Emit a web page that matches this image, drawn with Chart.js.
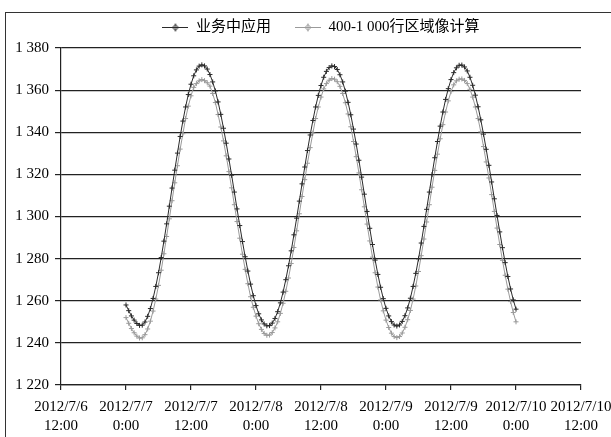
<!DOCTYPE html>
<html>
<head>
<meta charset="utf-8">
<script src="https://cdn.jsdelivr.net/npm/chart.js@4/dist/chart.umd.min.js"></script>
<style>
  html, body { margin: 0; padding: 0; background: #fff; }
  #wrap { position: relative; width: 611px; height: 437px; overflow: hidden; }
  #frame { position: absolute; left: 5px; top: 12px; width: 700px; height: 500px;
           border-left: 1px solid #333; border-top: 1px solid #333; }
  #c { position: absolute; left: 0; top: 0; }
</style>
</head>
<body>
<div id="wrap"><div id="frame"></div><canvas id="c" width="611" height="437"></canvas></div>
<script>
// Series names shown in the legend
const seriesNames = ['业务中应用', '400-1 000行区域像计算'];

// X tick labels, one every 12 hours starting 2012/7/6 12:00
const xTickLabels = [
  ['2012/7/6', '12:00'], ['2012/7/7', '0:00'], ['2012/7/7', '12:00'],
  ['2012/7/8', '0:00'], ['2012/7/8', '12:00'], ['2012/7/9', '0:00'],
  ['2012/7/9', '12:00'], ['2012/7/10', '0:00'], ['2012/7/10', '12:00']
];

// Samples start at 2012/7/7 0:00 (12 h after the first tick), every half hour
const firstSampleHour = 12;
const sampleStepHours = 0.5;

// 业务中应用
const appValues = [
  1258.0,1255.3,1252.8,1250.8,1249.2,1248.3,
  1248.4,1249.9,1252.6,1256.3,1261.1,1266.8,1273.3,1280.5,1288.3,1296.5,1304.9,1313.5,1322.0,1330.1,1338.0,1345.3,1352.0,1357.9,1362.8,1366.8,1369.6,1371.4,1372.0,
  1371.5,1370.0,1367.4,1363.9,1359.6,1354.4,1348.5,1341.9,1334.8,1327.3,1319.6,1311.6,1303.6,1295.7,1288.1,1280.9,1274.1,1267.9,1262.4,1257.7,1253.8,1250.9,1249.0,1248.1,
  1248.2,1249.4,1251.6,1254.8,1259.0,1264.1,1270.0,1276.6,1283.7,1291.3,1299.2,1307.3,1315.5,1323.5,1331.3,1338.7,1345.6,1352.0,1357.5,1362.2,1366.1,1368.9,1370.7,1371.5,
  1371.2,1369.8,1367.3,1363.9,1359.5,1354.2,1348.3,1341.5,1334.4,1326.7,1318.7,1310.6,1302.4,1294.4,1286.7,1279.3,1272.5,1266.4,1261.0,1256.4,1252.8,1250.1,1248.5,1248.0,
  1248.5,1250.2,1252.9,1256.6,1261.2,1266.8,1273.0,1279.9,1287.4,1295.3,1303.4,1311.6,1319.9,1327.9,1335.6,1342.9,1349.6,1355.6,1360.7,1365.0,1368.3,1370.6,1371.8,
  1371.9,1371.0,1369.1,1366.1,1362.3,1357.6,1352.1,1345.9,1339.1,1331.9,1324.3,1316.4,1308.4,1300.5,1292.7,1285.2,1278.1,1271.5,1265.6,1260.4,1256.0
];

// 400-1 000行区域像计算
const regionValues = [
  1252.0,1249.3,1246.8,1244.8,1243.2,1242.3,
  1242.4,1243.9,1246.6,1250.3,1255.1,1260.8,1267.3,1274.5,1282.3,1290.5,1298.9,1307.5,1316.0,1324.1,1332.0,1339.3,1346.5,1352.4,1357.3,1361.3,1363.1,1364.4,1365.0,
  1364.5,1363.5,1361.9,1358.4,1354.1,1348.4,1342.5,1335.9,1328.8,1321.3,1313.6,1305.6,1297.6,1289.7,1282.1,1274.9,1268.1,1261.9,1256.9,1252.7,1249.1,1246.4,1244.5,1243.6,
  1243.7,1244.9,1247.1,1250.0,1254.0,1258.8,1264.5,1270.8,1277.7,1285.3,1293.2,1301.3,1309.5,1317.5,1325.3,1332.7,1339.6,1346.5,1352.0,1356.7,1360.6,1363.1,1364.7,1365.5,
  1365.2,1364.0,1361.8,1358.4,1354.0,1348.7,1342.6,1335.6,1328.4,1320.7,1312.7,1304.6,1296.4,1288.4,1280.7,1273.3,1266.5,1260.4,1255.2,1250.8,1247.3,1244.6,1243.0,1242.5,
  1243.0,1244.7,1247.4,1251.0,1255.4,1260.8,1267.0,1273.9,1281.4,1289.3,1297.4,1305.6,1313.9,1321.9,1329.6,1336.9,1343.6,1349.6,1354.9,1359.3,1362.5,1364.4,1365.2,
  1365.3,1364.6,1363.1,1360.4,1356.7,1352.0,1346.5,1340.2,1333.2,1325.9,1318.3,1310.4,1302.4,1294.5,1286.7,1279.2,1272.1,1265.5,1259.6,1254.4,1250.0
];

const yMin = 1220, yMax = 1380, yStep = 20;
const xMin = 0, xMax = 96, xStep = 12;

const seriesColors = ['#2a2a2a', '#9a9a9a'];
const FONT = '"Liberation Serif", "Noto Sans CJK SC", serif';

function toPoints(values) {
  return values.map((v, i) => ({ x: firstSampleHour + i * sampleStepHours, y: v }));
}

// Small "line with marker" icon for the legend
function legendIcon(color) {
  const c = document.createElement('canvas');
  c.width = 26; c.height = 9;
  const g = c.getContext('2d');
  g.strokeStyle = color; g.lineWidth = 1;
  g.beginPath(); g.moveTo(0, 4.5); g.lineTo(26, 4.5); g.stroke();
  g.beginPath();
  g.moveTo(10, 4.5); g.lineTo(13, 1.5); g.lineTo(16, 4.5); g.lineTo(13, 7.5); g.closePath();
  g.stroke();
  g.beginPath(); g.moveTo(13, 0.5); g.lineTo(13, 8.5); g.stroke();
  return c;
}
const icons = seriesColors.map(legendIcon);

function groupThousands(v) {
  return String(v).replace(/\B(?=(\d{3})+(?!\d))/g, ' ');
}

// Extra room between the legend and the plot area
const legendGap = {
  id: 'legendGap',
  beforeInit(chart) {
    const origFit = chart.legend.fit;
    chart.legend.fit = function () {
      origFit.call(this);
      this.height += 3;
    };
  }
};

new Chart(document.getElementById('c'), {
  type: 'line',
  data: {
    datasets: [
      {
        label: seriesNames[0],
        data: toPoints(appValues),
        borderColor: seriesColors[0],
        backgroundColor: seriesColors[0],
        borderWidth: 1,
        pointStyle: 'cross',
        pointRadius: 2.5,
        pointBorderWidth: 1,
        tension: 0
      },
      {
        label: seriesNames[1],
        data: toPoints(regionValues),
        borderColor: seriesColors[1],
        backgroundColor: seriesColors[1],
        borderWidth: 1,
        pointStyle: 'cross',
        pointRadius: 2.5,
        pointBorderWidth: 1,
        tension: 0
      }
    ]
  },
  options: {
    responsive: false,
    animation: false,
    devicePixelRatio: 1,
    layout: { padding: { top: -4, right: 30, bottom: 0, left: 0 } },
    plugins: {
      tooltip: { enabled: false },
      legend: {
        position: 'top',
        fullSize: false,
        labels: {
          usePointStyle: true,
          pointStyleWidth: 26,
          padding: 24,
          color: '#000',
          font: { family: FONT, size: 15 },
          generateLabels(chart) {
            const items = Chart.defaults.plugins.legend.labels.generateLabels(chart);
            items.forEach((it, i) => { it.pointStyle = icons[i]; it.fontColor = '#000'; });
            return items;
          }
        }
      }
    },
    scales: {
      x: {
        type: 'linear',
        min: xMin, max: xMax,
        afterFit(scale) { scale.height = 52; scale.paddingLeft = 0; scale.paddingRight = 0; },
        ticks: {
          stepSize: xStep,
          autoSkip: false,
          maxRotation: 0,
          padding: 7,
          color: '#000',
          font: { family: FONT, size: 15, lineHeight: 1.3 },
          callback(value) { return xTickLabels[Math.round((value - xMin) / xStep)]; }
        },
        grid: { drawOnChartArea: false, drawTicks: true, tickLength: 5, color: '#222', lineWidth: 1.2 },
        border: { color: '#222', width: 1.2 }
      },
      y: {
        min: yMin, max: yMax,
        afterFit(scale) { scale.width = 61; scale.paddingTop = 0; scale.paddingBottom = 0; },
        ticks: {
          stepSize: yStep,
          padding: 6,
          color: '#000',
          font: { family: FONT, size: 15 },
          callback(value) { return groupThousands(value); }
        },
        grid: { color: '#222', lineWidth: 1.2, tickLength: 6 },
        border: { color: '#222', width: 1.2 }
      }
    }
  },
  plugins: [legendGap]
});
</script>
</body>
</html>
